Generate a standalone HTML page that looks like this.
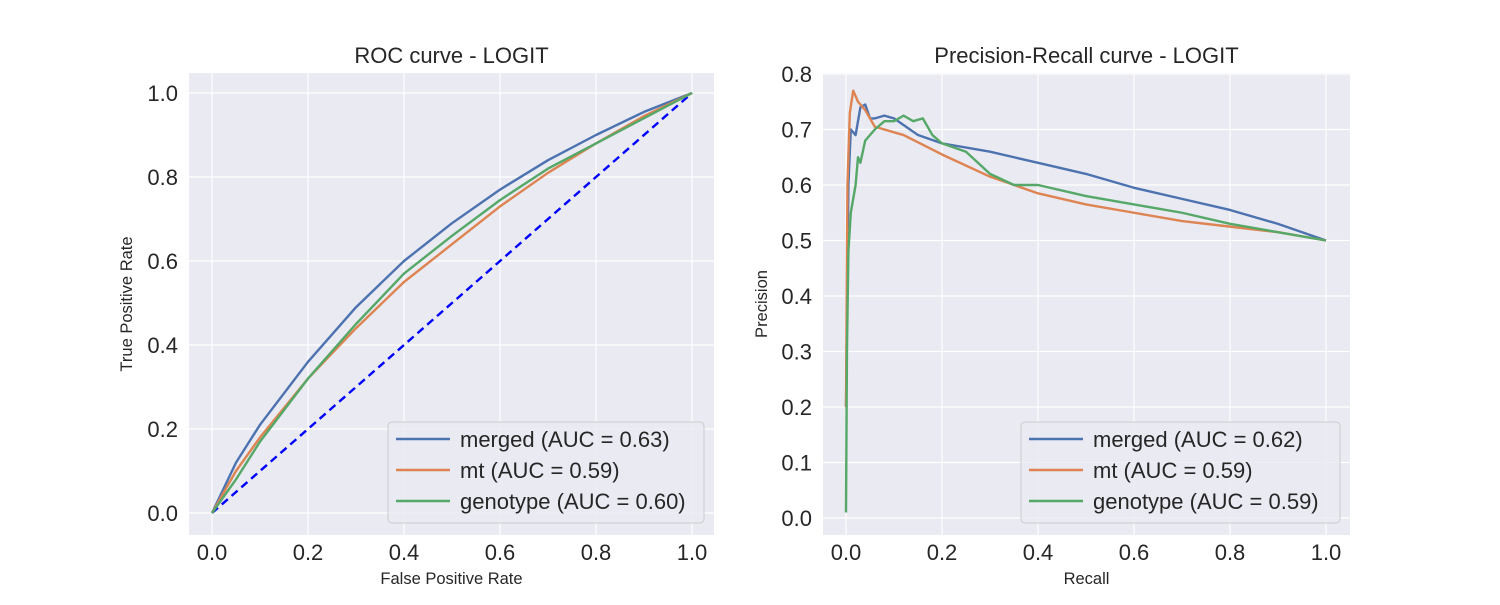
<!DOCTYPE html>
<html><head><meta charset="utf-8"><style>
body{margin:0;background:#fff;font-family:"Liberation Sans",sans-serif}
svg text{font-family:"Liberation Sans","DejaVu Sans",sans-serif;fill:#262626}
</style></head><body>
<svg id="c" width="1500" height="600" xmlns="http://www.w3.org/2000/svg"></svg>
<script>
const rocFpr=[0,0.05,0.1,0.2,0.3,0.4,0.5,0.6,0.7,0.8,0.9,1];
const rocMerged=[0,0.12,0.21,0.36,0.49,0.60,0.69,0.77,0.84,0.90,0.955,1];
const rocMt=[0,0.10,0.18,0.32,0.44,0.55,0.64,0.73,0.81,0.88,0.945,1];
const rocGeno=[0,0.08,0.17,0.32,0.45,0.57,0.66,0.745,0.82,0.88,0.94,1];
const prMergedR=[0,0.005,0.01,0.02,0.03,0.04,0.05,0.06,0.08,0.1,0.15,0.2,0.3,0.4,0.5,0.6,0.7,0.8,0.9,1];
const prMergedP=[0.2,0.6,0.7,0.69,0.74,0.745,0.72,0.72,0.725,0.72,0.69,0.675,0.66,0.64,0.62,0.595,0.575,0.555,0.53,0.5];
const prMtR=[0,0.003,0.008,0.015,0.025,0.04,0.06,0.08,0.12,0.2,0.3,0.4,0.5,0.6,0.7,0.8,0.9,1];
const prMtP=[0.2,0.6,0.73,0.77,0.75,0.735,0.705,0.70,0.69,0.655,0.615,0.585,0.565,0.55,0.535,0.525,0.515,0.5];
const prGenoR=[0,0.002,0.005,0.01,0.02,0.025,0.03,0.04,0.06,0.08,0.1,0.12,0.14,0.16,0.18,0.2,0.25,0.3,0.35,0.4,0.5,0.6,0.7,0.8,0.9,1];
const prGenoP=[0.01,0.3,0.48,0.55,0.6,0.65,0.64,0.68,0.7,0.715,0.715,0.725,0.715,0.72,0.69,0.675,0.66,0.62,0.6,0.6,0.58,0.565,0.55,0.53,0.515,0.5];
const xTicks=[0,0.2,0.4,0.6,0.8,1.0];
const rocYTicks=[0,0.2,0.4,0.6,0.8,1.0];
const prYTicks=[0,0.1,0.2,0.3,0.4,0.5,0.6,0.7,0.8];
const C={b:'#4c72b0',o:'#dd8452',g:'#55a868'};
const svg=document.getElementById('c');const NS='http://www.w3.org/2000/svg';
function mk(t,a,p){const e=document.createElementNS(NS,t);for(const k in a)e.setAttribute(k,a[k]);(p||svg).appendChild(e);return e;}
function panel(o){
 const g=mk('g',{});
 
 
 const bg=mk('rect',{x:o.L,y:73,width:o.R-o.L,height:462,fill:'#eaeaf2'},g);
 
 
 const sx=v=>o.x0+v*480, sy=v=>o.y0-v*o.ys;
 xTicks.forEach(t=>{mk('line',{x1:sx(t),x2:sx(t),y1:73,y2:535,stroke:'#fff','stroke-width':1.2},g);
  const tx=mk('text',{x:sx(t),y:560,'font-size':22,'text-anchor':'middle'},g);tx.textContent=t.toFixed(1);
  
  });
 o.yt.forEach(t=>{mk('line',{x1:o.L,x2:o.R,y1:sy(t),y2:sy(t),stroke:'#fff','stroke-width':1.2},g);
  const tx=mk('text',{x:o.L-11,y:sy(t)+8,'font-size':22,'text-anchor':'end'},g);tx.textContent=t.toFixed(1);
  
  });
 if(o.diag){const d=mk('line',{x1:sx(0),y1:sy(0),x2:sx(1),y2:sy(1),stroke:'#0000ff','stroke-width':2.4,'stroke-dasharray':'8,5'},g);
  
  }
 o.series.forEach(s=>{const p=mk('polyline',{points:s.x.map((v,i)=>sx(v)+','+sy(s.y[i])).join(' '),fill:'none',stroke:s.c,'stroke-width':2.4,'stroke-linejoin':'round'},g);
  
  });
 const t=mk('text',{x:(o.L+o.R)/2,y:63,'font-size':22,'text-anchor':'middle'},g);t.textContent=o.title;
 
 
 const xl=mk('text',{x:(o.L+o.R)/2,y:584,'font-size':16.5,'text-anchor':'middle'},g);xl.textContent=o.xl;
 
 
 const yl=mk('text',{x:0,y:0,'font-size':16.5,'text-anchor':'middle',transform:`translate(${o.ylx},304) rotate(-90)`},g);yl.textContent=o.yl;
 
 
 const lg=mk('g',{},g);
 
 
 mk('rect',{x:o.lx,y:422,width:o.lw,height:101,rx:4,fill:'#eaeaf2','fill-opacity':0.8,stroke:'#ccc'},lg);
 o.series.forEach((s,i)=>{const y=439+i*31;mk('line',{x1:o.lx+8,x2:o.lx+62,y1:y,y2:y,stroke:s.c,'stroke-width':2.4},lg);
  const tx=mk('text',{x:o.lx+72,y:y+8,'font-size':22},lg);tx.textContent=s.lab;
  
  });
}
panel({name:'roc-chart',L:189,R:714,x0:212,y0:513,ys:420,yt:rocYTicks,diag:true,title:'ROC curve - LOGIT',xl:'False Positive Rate',yl:'True Positive Rate',ylx:132,lx:388,lw:316,
 series:[{n:'merged',x:rocFpr,y:rocMerged,c:C.b,lab:'merged (AUC = 0.63)'},{n:'mt',x:rocFpr,y:rocMt,c:C.o,lab:'mt (AUC = 0.59)'},{n:'genotype',x:rocFpr,y:rocGeno,c:C.g,lab:'genotype (AUC = 0.60)'}]});
panel({name:'pr-chart',L:823,R:1350,x0:846,y0:518,ys:555,yt:prYTicks,diag:false,title:'Precision-Recall curve - LOGIT',xl:'Recall',yl:'Precision',ylx:767,lx:1021,lw:319,
 series:[{n:'merged',x:prMergedR,y:prMergedP,c:C.b,lab:'merged (AUC = 0.62)'},{n:'mt',x:prMtR,y:prMtP,c:C.o,lab:'mt (AUC = 0.59)'},{n:'genotype',x:prGenoR,y:prGenoP,c:C.g,lab:'genotype (AUC = 0.59)'}]});
</script>
</body></html>
